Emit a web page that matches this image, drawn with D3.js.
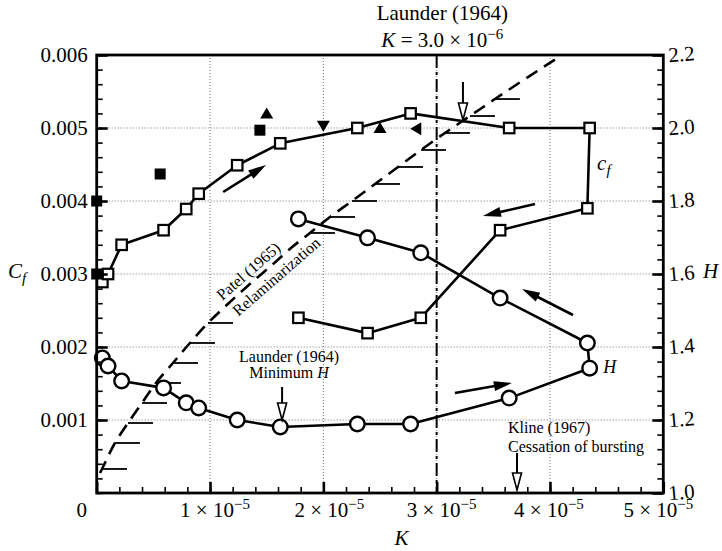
<!DOCTYPE html>
<html>
<head>
<meta charset="utf-8">
<script src="https://cdn.jsdelivr.net/npm/d3@7"></script>
<style>
  html, body { margin: 0; padding: 0; background: #fff; }
  svg { display: block; }
</style>
</head>
<body>
<svg id="chart" width="722" height="551"></svg>
<script>
// ---- Data (K given in units of 1e-5) ----
// accelerating run (outbound) and relaxing run (return)
const kAccel  = [0.05, 0.10, 0.22, 0.59, 0.79, 0.90, 1.24, 1.62, 2.30, 2.77, 3.64, 4.35];
const cfAccel = [0.00289, 0.00300, 0.00340, 0.00360, 0.00389, 0.00410, 0.00449, 0.00479, 0.00500, 0.00520, 0.00500, 0.00500];
const hAccel  = [1.370, 1.348, 1.307, 1.288, 1.247, 1.233, 1.200, 1.181, 1.189, 1.189, 1.260, 1.342];

const kRelax  = [4.33, 3.56, 2.86, 2.39, 1.78];
const cfRelax = [0.00390, 0.00360, 0.00240, 0.00219, 0.00240];
const hRelax  = [1.411, 1.534, 1.658, 1.699, 1.751];

// other measurements (filled symbols)
const otherSquareK  = [0.00, 0.00, 0.56, 1.44];
const otherSquareCf = [0.00400, 0.00300, 0.00437, 0.00497];
const otherUpK      = [1.50, 2.50];
const otherUpCf     = [0.00520, 0.00500];
const otherDownK    = [2.00];
const otherDownCf   = [0.00503];
const otherLeftK    = [2.82];
const otherLeftCf   = [0.00499];

// Patel (1965) relaminarization boundary
const patelK  = [0.029, 0.047, 0.161, 0.276, 0.400, 0.523, 0.673, 0.823, 0.982, 1.167, 1.362, 1.547, 1.714, 1.882,
                 2.059, 2.253, 2.456, 2.659, 2.862, 3.073, 3.294, 3.514, 4.106];
const patelCf = [0.000274, 0.000329, 0.000685, 0.000959, 0.001233, 0.001507, 0.001781, 0.002055, 0.002329, 0.002603,
                 0.002877, 0.003123, 0.003356, 0.003562, 0.003781, 0.004000, 0.004233, 0.004466, 0.004699, 0.004932,
                 0.005164, 0.005397, 0.006000];
// levels where hatch marks sit on the boundary
const patelHatchCf = [0.000329, 0.000685, 0.000959, 0.001233, 0.001507, 0.001781, 0.002055, 0.002329,
                      0.003562, 0.003781, 0.004000, 0.004233, 0.004466, 0.004699, 0.004932, 0.005164, 0.005397];

const launderK = 3.0;   // Launder (1964), K = 3.0e-5 line

// ticks
const kTicks  = [0, 1, 2, 3, 4, 5];
const cfTicks = [0.001, 0.002, 0.003, 0.004, 0.005, 0.006];
const hTicks  = [1.0, 1.2, 1.4, 1.6, 1.8, 2.0, 2.2];

// ---- Scales ----
const svg = d3.select("#chart")
  .attr("font-family", "'Liberation Serif', 'Times New Roman', 'DejaVu Serif', serif");
const x   = d3.scaleLinear().domain([0, 5]).range([96.7, 663.3]);
const yCf = d3.scaleLinear().domain([0, 0.006]).range([493, 55]);
const yH  = d3.scaleLinear().domain([1.0, 2.2]).range([493, 55]);

const X0 = x(0), X1 = x(5), YB = yCf(0), YT = yCf(0.006);

// ---- Grid ----
const grid = svg.append("g").attr("stroke", "#777").attr("stroke-width", 1).attr("stroke-dasharray", "1,2");
grid.selectAll("line.gx").data(kTicks.filter(k => k > 0 && k < 5)).join("line")
  .attr("class", "gx").attr("x1", d => x(d)).attr("x2", d => x(d)).attr("y1", YT).attr("y2", YB);
grid.selectAll("line.gy").data(cfTicks.filter(c => c < 0.006)).join("line")
  .attr("class", "gy").attr("y1", d => yCf(d)).attr("y2", d => yCf(d)).attr("x1", X0).attr("x2", X1);

// ---- Patel boundary: dashed curve with hatches ----
const patelPts = patelK.map((k, i) => [x(k), yCf(patelCf[i])]);
svg.append("path")
  .attr("d", d3.line().curve(d3.curveMonotoneY)(patelPts))
  .attr("fill", "none").attr("stroke", "#000").attr("stroke-width", 2.6)
  .attr("stroke-dasharray", "13,8");

function kOnPatel(cf) {
  for (let i = 0; i < patelCf.length - 1; i++) {
    if (cf >= patelCf[i] && cf <= patelCf[i + 1]) {
      const t = (cf - patelCf[i]) / (patelCf[i + 1] - patelCf[i]);
      return patelK[i] + t * (patelK[i + 1] - patelK[i]);
    }
  }
  return patelK[0];
}
svg.append("g").attr("stroke", "#000").attr("stroke-width", 1.8)
  .selectAll("line").data(patelHatchCf).join("line")
  .attr("x1", d => x(kOnPatel(d))).attr("x2", d => x(kOnPatel(d)) + 25)
  .attr("y1", d => yCf(d)).attr("y2", d => yCf(d));

// ---- Launder line (dash-dot) ----
svg.append("line")
  .attr("x1", x(launderK)).attr("x2", x(launderK)).attr("y1", YT).attr("y2", YB)
  .attr("stroke", "#000").attr("stroke-width", 2).attr("stroke-dasharray", "13,4,3,4");

// ---- Data lines ----
const cfPath = kAccel.map((k, i) => [x(k), yCf(cfAccel[i])]).concat(kRelax.map((k, i) => [x(k), yCf(cfRelax[i])]));
const hPath  = kAccel.map((k, i) => [x(k), yH(hAccel[i])]).concat(kRelax.map((k, i) => [x(k), yH(hRelax[i])]));
svg.append("path").attr("d", d3.line()(cfPath)).attr("fill", "none").attr("stroke", "#000").attr("stroke-width", 2.6).attr("stroke-linejoin", "round");
svg.append("path").attr("d", d3.line()(hPath)).attr("fill", "none").attr("stroke", "#000").attr("stroke-width", 2.6).attr("stroke-linejoin", "round");

// circles for H
svg.append("g").selectAll("circle").data(hPath).join("circle")
  .attr("cx", d => d[0]).attr("cy", d => d[1]).attr("r", 7.3)
  .attr("fill", "#fff").attr("stroke", "#000").attr("stroke-width", 2.4);
// squares for cf
const sq = 10.5;
svg.append("g").selectAll("rect").data(cfPath).join("rect")
  .attr("x", d => d[0] - sq / 2).attr("y", d => d[1] - sq / 2).attr("width", sq).attr("height", sq)
  .attr("fill", "#fff").attr("stroke", "#000").attr("stroke-width", 2.2);

// filled symbols
const fs = 11;
svg.append("g").selectAll("rect").data(otherSquareK.map((k, i) => [x(k), yCf(otherSquareCf[i])])).join("rect")
  .attr("x", d => d[0] - fs / 2).attr("y", d => d[1] - fs / 2).attr("width", fs).attr("height", fs).attr("fill", "#000");
const triUp = "M0,-6 L6.5,5 L-6.5,5 Z", triDown = "M0,6 L6.5,-5 L-6.5,-5 Z", triLeft = "M-6,0 L5,-6.5 L5,6.5 Z";
function drawSymbols(ks, cfs, pathD) {
  svg.append("g").selectAll("path").data(ks.map((k, i) => [x(k), yCf(cfs[i])])).join("path")
    .attr("d", pathD).attr("transform", d => `translate(${d[0]},${d[1]})`).attr("fill", "#000");
}
drawSymbols(otherUpK, otherUpCf, triUp);
drawSymbols(otherDownK, otherDownCf, triDown);
drawSymbols(otherLeftK, otherLeftCf, triLeft);

// ---- Direction arrows (filled heads) ----
const arrows = [
  [[1.116, 0.004123], [1.494, 0.004493]],
  [[3.868, 0.003959], [3.409, 0.003795]],
  [[4.203, 0.002438], [3.753, 0.002795]],
  [[3.161, 0.001370], [3.664, 0.001507]]
];
const ag = svg.append("g");
arrows.forEach(([a, b]) => {
  const x1 = x(a[0]), y1 = yCf(a[1]), x2 = x(b[0]), y2 = yCf(b[1]);
  const L = Math.hypot(x2 - x1, y2 - y1), ux = (x2 - x1) / L, uy = (y2 - y1) / L;
  const hl = 18, hw = 5;
  const bx = x2 - hl * ux, by = y2 - hl * uy;
  ag.append("line").attr("x1", x1).attr("y1", y1).attr("x2", bx + 2 * ux).attr("y2", by + 2 * uy)
    .attr("stroke", "#000").attr("stroke-width", 2.6);
  ag.append("path").attr("d", `M${x2},${y2} L${bx - hw * uy},${by + hw * ux} L${bx + hw * uy},${by - hw * ux} Z`).attr("fill", "#000");
});

// ---- Marker arrows (open heads, pointing down) ----
const markers = [[1.636, 0.001452, 0.001000], [3.232, 0.005630, 0.005110], [3.709, 0.000548, 0.000041]];
const mg = svg.append("g");
markers.forEach(([k, top, tip]) => {
  const xm = x(k), y0 = yCf(top), y1 = yCf(tip), hl = 17, hw = 4.5;
  mg.append("line").attr("x1", xm).attr("x2", xm).attr("y1", y0).attr("y2", y1 - hl).attr("stroke", "#000").attr("stroke-width", 2);
  mg.append("path").attr("d", `M${xm},${y1} L${xm - hw},${y1 - hl} L${xm + hw},${y1 - hl} Z`)
    .attr("fill", "#fff").attr("stroke", "#000").attr("stroke-width", 1.6).attr("stroke-linejoin", "miter");
});

// ---- Axes: inward ticks ----
function styleAxis(g, w) {
  g.select(".domain").remove();
  g.selectAll(".tick text").remove();
  g.selectAll(".tick line").attr("stroke", "#000").attr("stroke-width", w);
}
const minorK  = d3.range(0, 5.0001, 0.2);
const minorCf = d3.range(0, 0.0060001, 0.0002);
const minorH  = d3.range(1.0, 2.20001, 0.04);
svg.append("g").attr("transform", `translate(0,${YB})`).call(d3.axisBottom(x).tickValues(minorK).tickSize(-6)).call(g => styleAxis(g, 1.6));
svg.append("g").attr("transform", `translate(0,${YB})`).call(d3.axisBottom(x).tickValues(kTicks).tickSize(-11)).call(g => styleAxis(g, 2.6));
svg.append("g").attr("transform", `translate(${X0},0)`).call(d3.axisLeft(yCf).tickValues(minorCf).tickSize(-6)).call(g => styleAxis(g, 1.6));
svg.append("g").attr("transform", `translate(${X0},0)`).call(d3.axisLeft(yCf).tickValues(cfTicks).tickSize(-11)).call(g => styleAxis(g, 2.6));
svg.append("g").attr("transform", `translate(${X1},0)`).call(d3.axisRight(yH).tickValues(minorH).tickSize(-6)).call(g => styleAxis(g, 1.6));
svg.append("g").attr("transform", `translate(${X1},0)`).call(d3.axisRight(yH).tickValues(hTicks).tickSize(-11)).call(g => styleAxis(g, 2.6));

// frame
svg.append("rect").attr("x", X0).attr("y", YT).attr("width", X1 - X0).attr("height", YB - YT)
  .attr("fill", "none").attr("stroke", "#000").attr("stroke-width", 2.8);

// ---- Tick labels ----
svg.append("g").attr("font-size", 21).attr("text-anchor", "end")
  .selectAll("text").data(cfTicks).join("text")
  .attr("x", X0 - 9).attr("y", d => yCf(d)).attr("dy", "0.35em")
  .text(d => d3.format(".3f")(d));

svg.append("g").attr("font-size", 21)
  .selectAll("text").data(hTicks).join("text")
  .attr("transform", d => `translate(${X1 + 5},${yH(d)}) rotate(-5)`).attr("dy", "0.35em")
  .text(d => d3.format(".1f")(d));

// small horizontal nudges keep the end labels clear of the frame
const kLabelShift = { 0: -15, 1: 5, 2: 6, 3: 5, 4: -1, 5: -5 };
const xl = svg.append("g").attr("font-size", 21).attr("text-anchor", "middle")
  .selectAll("text").data(kTicks).join("text")
  .attr("x", d => x(d) + kLabelShift[d]).attr("y", YB + 24);
xl.each(function (d) {
  const t = d3.select(this);
  if (d === 0) { t.text("0"); return; }
  t.append("tspan").text(`${d} × 10`);
  t.append("tspan").attr("dy", -8).attr("font-size", 15).text("−5");
});

// ---- Axis titles ----
const cfLab = svg.append("text").attr("x", 8).attr("y", 278).attr("font-size", 21).attr("font-style", "italic");
cfLab.append("tspan").text("C");
cfLab.append("tspan").attr("dy", 5).attr("font-size", 15).text("f");

svg.append("text").attr("x", 703).attr("y", 278).attr("font-size", 21).attr("font-style", "italic").text("H");

svg.append("text").attr("x", x(2.69)).attr("y", 545).attr("font-size", 21).attr("font-style", "italic")
  .attr("text-anchor", "middle").text("K");

// ---- Annotations ----
const title = svg.append("g").attr("font-size", 21).attr("text-anchor", "middle");
title.append("text").attr("x", x(3.05)).attr("y", 20).text("Launder (1964)");
const t2 = title.append("text").attr("x", x(3.05)).attr("y", 47);
t2.append("tspan").attr("font-style", "italic").text("K");
t2.append("tspan").text(" = 3.0 × 10");
t2.append("tspan").attr("dy", -8).attr("font-size", 15).text("−6");

const lm = svg.append("text").attr("font-size", 16).attr("text-anchor", "middle");
lm.append("tspan").attr("x", x(1.697)).attr("y", yCf(0.001795)).text("Launder (1964)");
const lm2 = lm.append("tspan").attr("x", x(1.697)).attr("dy", 16.5);
lm2.append("tspan").text("Minimum ");
lm.append("tspan").attr("font-style", "italic").text("H");

const kl = svg.append("text").attr("font-size", 16);
kl.append("tspan").attr("x", x(3.63)).attr("y", 433).text("Kline (1967)");
kl.append("tspan").attr("x", x(3.63)).attr("dy", 19).text("Cessation of bursting");

svg.append("text").attr("font-size", 16).attr("text-anchor", "middle")
  .attr("transform", `translate(${x(1.370)},${yCf(0.002982)}) rotate(-41)`).text("Patel (1965)");
svg.append("text").attr("font-size", 16).attr("text-anchor", "middle")
  .attr("transform", `translate(${x(1.617)},${yCf(0.002910)}) rotate(-41)`).text("Relaminarization");

const cfTag = svg.append("text").attr("x", x(4.416)).attr("y", yCf(0.004425)).attr("font-size", 21).attr("font-style", "italic");
cfTag.append("tspan").text("c");
cfTag.append("tspan").attr("dy", 5).attr("font-size", 15).text("f");

svg.append("text").attr("x", x(4.47)).attr("y", yH(1.329)).attr("font-size", 18).attr("font-style", "italic").text("H");
</script>
</body>
</html>
